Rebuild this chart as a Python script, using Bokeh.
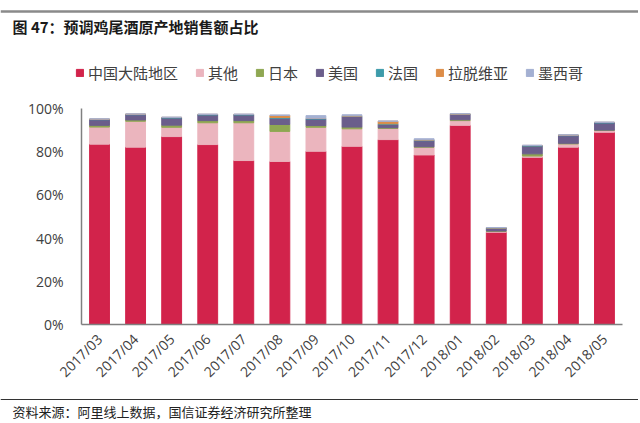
from bokeh.plotting import figure
from bokeh.layouts import column
from bokeh.models import (Range1d, FactorRange, Legend, LegendItem,
                          PrintfTickFormatter, FixedTicker, ColumnDataSource)
from bokeh.core.properties import value
from bokeh.embed import file_html
from bokeh.resources import INLINE
import math

months = ["2017/03", "2017/04", "2017/05", "2017/06", "2017/07", "2017/08",
          "2017/09", "2017/10", "2017/11", "2017/12", "2018/01", "2018/02",
          "2018/03", "2018/04", "2018/05"]
china = [83.5, 82.1, 87.0, 83.3, 75.9, 75.5, 80.2, 82.5, 85.6, 78.5, 92.2, 42.7, 77.4, 82.1, 89.0]
other = [7.9, 12.0, 4.3, 10.1, 17.5, 13.9, 11.1, 8.1, 5.2, 3.6, 2.2, 0.4, 0.6, 1.5, 0.8]
japan = [0.8, 0.6, 1.0, 1.0, 1.0, 3.2, 0.8, 0.8, 0.3, 0.2, 0.4, 0.2, 1.0, 0.3, 0.2]
usa = [2.6, 2.4, 3.3, 2.6, 2.6, 2.9, 3.0, 4.9, 1.6, 2.8, 2.5, 1.3, 3.6, 3.5, 3.3]
france = [0.2, 0.2, 0.2, 0.2, 0.2, 0.3, 0.3, 0.2, 0.2, 0.3, 0.1, 0.1, 0.2, 0.2, 0.2]
latvia = [0.1, 0.1, 0.1, 0.1, 0.1, 1.0, 0.1, 0.1, 1.2, 0.1, 0.1, 0.1, 0.1, 0.1, 0.1]
mexico = [0.1, 0.1, 0.1, 0.1, 0.1, 0.2, 1.2, 0.5, 0.1, 0.5, 0.1, 0.1, 0.1, 0.1, 0.1]

series_keys = ["china", "other", "japan", "usa", "france", "latvia", "mexico"]
series_names = ["中国大陆地区", "其他", "日本", "美国", "法国", "拉脱维亚", "墨西哥"]
colors = ["#D2234B", "#EBB5BE", "#8FA752", "#6B5E8B", "#3D9BAA", "#DD8D48", "#A4B0D2"]
y_ticks = [0, 20, 40, 60, 80, 100]

title_text = "图 47：预调鸡尾酒原产地销售额占比"
source_text = "资料来源：阿里线上数据，国信证券经济研究所整理"

CJK = "Noto Sans CJK SC"
W = 638

# ---------- header (title + legend) ----------
HH = 92
head = figure(width=W, height=HH, x_range=Range1d(0, W), y_range=Range1d(HH, 0),
              output_backend="svg", toolbar_location=None, frame_align=False,
              x_axis_location=None, y_axis_location=None, min_border=0)
head.outline_line_color = None
head.grid.visible = False
head.segment(x0=[0], y0=[11], x1=[W], y1=[11], line_color="#8a8a8a", line_width=2.5)
head.text(x=[12], y=[26], text=[title_text], text_font=value(CJK),
          text_font_size="15px", text_font_style="bold", text_color="#1a1a1a",
          text_baseline="middle", text_align="left")

# legend swatches: renderers with an undrawn (NaN) row carrying each series' colour
swatches = [head.vbar(x=[0], top=[float("nan")], bottom=[float("nan")], width=1, color=c)
            for c in colors]
legend = Legend(items=[LegendItem(label=n, renderers=[r]) for n, r in zip(series_names, swatches)],
                orientation="horizontal", location=(75, 9),
                label_text_font=CJK, label_text_font_size="15px", label_text_color="#404040",
                glyph_width=9, glyph_height=9, label_standoff=4, spacing=17,
                padding=0, margin=0, border_line_color=None, background_fill_alpha=0,
                label_height=16)
head.add_layout(legend)

# ---------- main chart ----------
data = dict(month=months, china=china, other=other, japan=japan, usa=usa,
            france=france, latvia=latvia, mexico=mexico)
src = ColumnDataSource(data)

MH = 300
p = figure(width=W, height=MH, x_range=FactorRange(*months), y_range=Range1d(0, 100),
           output_backend="svg", toolbar_location=None, frame_align=False,
           min_border_left=81, min_border_right=W - 622, min_border_top=16, min_border_bottom=68)
p.vbar_stack(series_keys, x="month", width=0.55, color=colors, source=src)

p.outline_line_color = None
p.grid.visible = False
p.x_range.range_padding = 0
for ax in (p.xaxis[0], p.yaxis[0]):
    ax.axis_line_color = "#808080"
    ax.axis_line_width = 1.5
    ax.major_tick_line_color = None
    ax.minor_tick_line_color = None
    ax.major_tick_out = 0
    ax.major_label_text_color = "#404040"
    ax.major_label_text_font = "Open Sans"
p.yaxis[0].ticker = FixedTicker(ticks=y_ticks)
p.yaxis[0].formatter = PrintfTickFormatter(format="%d%%")
p.yaxis[0].major_label_text_font_size = "14px"
p.yaxis[0].major_label_standoff = 18
p.xaxis[0].major_label_orientation = math.pi / 4
p.xaxis[0].major_label_text_font_size = "14px"
p.xaxis[0].major_label_standoff = 12

# ---------- footer ----------
FH = 421 - HH - MH
foot = figure(width=W, height=FH, x_range=Range1d(0, W), y_range=Range1d(FH, 0),
              output_backend="svg", toolbar_location=None, frame_align=False,
              x_axis_location=None, y_axis_location=None, min_border=0)
foot.outline_line_color = None
foot.grid.visible = False
foot.segment(x0=[0], y0=[7], x1=[W], y1=[7], line_color="#333333", line_width=1)
foot.text(x=[12], y=[19], text=[source_text], text_font=value(CJK),
          text_font_size="13px", text_color="#222222",
          text_baseline="middle", text_align="left")

layout = column(head, p, foot, spacing=0)
open("out.html", "w").write(file_html(layout, INLINE))
